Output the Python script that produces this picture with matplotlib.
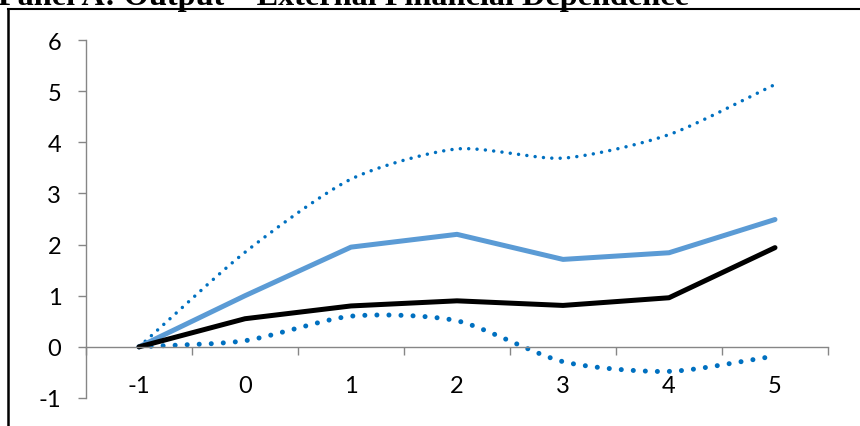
import numpy as np
import matplotlib.pyplot as plt
from matplotlib.lines import Line2D
from matplotlib.ticker import FixedLocator

periods = [-1, 0, 1, 2, 3, 4, 5]
point_est = [0.0, 0.55, 0.80, 0.90, 0.81, 0.96, 1.94]      # black
point_est2 = [0.0, 1.0, 1.95, 2.20, 1.71, 1.84, 2.49]      # light blue
upper_band = [0.0, 1.85, 3.28, 3.87, 3.69, 4.15, 5.13]     # dotted thin
lower_band = [0.0, 0.12, 0.60, 0.51, -0.29, -0.48, -0.18]  # dotted thick
title = "Panel A: Output \u2013 External Financial Dependence"

gray = "#868686"
light_blue = "#5B9BD5"
dot_blue = "#0070C0"

plt.rcParams["axes.unicode_minus"] = False


def smooth(x, y, n=30, k=0.75):
    # cardinal spline through the points, like Excel's "smoothed line"
    x = np.asarray(x, float)
    y = np.asarray(y, float)
    px = np.concatenate([[2 * x[0] - x[1]], x, [2 * x[-1] - x[-2]]])
    py = np.concatenate([[2 * y[0] - y[1]], y, [2 * y[-1] - y[-2]]])
    xs, ys = [], []
    t = np.linspace(0, 1, n, endpoint=False)
    h00 = 2 * t ** 3 - 3 * t ** 2 + 1
    h10 = t ** 3 - 2 * t ** 2 + t
    h01 = -2 * t ** 3 + 3 * t ** 2
    h11 = t ** 3 - t ** 2
    for i in range(1, len(px) - 2):
        for p, out in ((px, xs), (py, ys)):
            m1 = k * (p[i + 1] - p[i - 1]) / 2
            m2 = k * (p[i + 2] - p[i]) / 2
            out.extend(h00 * p[i] + h10 * m1 + h01 * p[i + 1] + h11 * m2)
    xs.append(x[-1])
    ys.append(y[-1])
    return np.array(xs), np.array(ys)


fig = plt.figure(figsize=(8.6, 4.27), dpi=100)
ax = fig.add_axes([86 / 860, 1 - 399 / 427, 742 / 860, 358 / 427])

ux, uy = smooth(periods, upper_band)
lx, ly = smooth(periods, lower_band)
ax.plot(ux, uy, color=dot_blue, lw=2.5, linestyle=(0, (0.01, 2.4)),
        dash_capstyle="round")
ax.plot(lx, ly, color=dot_blue, lw=3.6, linestyle=(0, (0.01, 2.4)),
        dash_capstyle="round")
ax.plot(periods, point_est2, color=light_blue, lw=3.6, solid_capstyle="round")
ax.plot(periods, point_est, color="black", lw=3.6, solid_capstyle="round")

ax.set_xlim(-1.5, 5.5)
ax.set_ylim(-1, 6)

for s in ("top", "right"):
    ax.spines[s].set_visible(False)
ax.spines["bottom"].set_position(("data", 0))
for s in ("left", "bottom"):
    ax.spines[s].set_color(gray)
    ax.spines[s].set_linewidth(1.0)

ax.set_yticks(range(-1, 7))
ax.tick_params(axis="y", direction="out", length=5.8, width=1.0, color=gray,
               pad=12, labelsize=17)
ax.set_xticks(periods)
ax.set_xticklabels([str(p) for p in periods])
ax.tick_params(axis="x", which="major", length=0, pad=20, labelsize=17)
ax.xaxis.set_minor_locator(FixedLocator(np.arange(-1.5, 6.0, 1.0)))
ax.tick_params(axis="x", which="minor", direction="out", length=5.8,
               width=1.0, color=gray)
for lab in ax.get_xticklabels() + ax.get_yticklabels():
    lab.set_fontfamily("Lato")

# chart frame (top and left edges visible in the crop)
fig.add_artist(Line2D([8 / 860, 859 / 860], [1 - 10 / 427, 1 - 10 / 427],
                      transform=fig.transFigure, color="black", lw=1.5))
fig.add_artist(Line2D([8 / 860, 8 / 860], [0, 1 - 10 / 427],
                      transform=fig.transFigure, color="black", lw=1.8))

t = fig.text(-2 / 860, 1 - 5 / 427, title, family="Liberation Serif",
             weight="bold", fontsize=20, ha="left", va="baseline")
fig.canvas.draw()
w = t.get_window_extent().width
t.set_fontsize(20 * 690 / w)

fig.savefig("out.png", dpi=100)
